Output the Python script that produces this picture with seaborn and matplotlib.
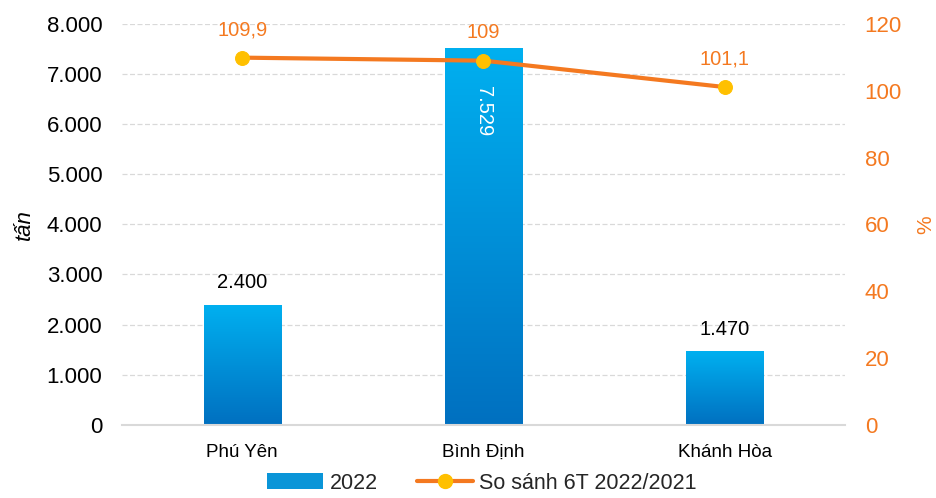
import numpy as np
import pandas as pd
import matplotlib
matplotlib.use('Agg')
import matplotlib.pyplot as plt
import seaborn as sns
from matplotlib.lines import Line2D
from matplotlib.patches import Patch

# Data
provinces = ['Phú Yên', 'Bình Định', 'Khánh Hòa']
tons_2022 = [2400, 7529, 1470]
tons_labels = ['2.400', '7.529', '1.470']
pct_vs_2021 = [109.9, 109.0, 101.1]
pct_labels = ['109,9', '109', '101,1']
left_ticks = [0, 1000, 2000, 3000, 4000, 5000, 6000, 7000, 8000]
left_ticklabels = ['0', '1.000', '2.000', '3.000', '4.000', '5.000', '6.000', '7.000', '8.000']
right_ticks = [0, 20, 40, 60, 80, 100, 120]

sns.set_theme(style="white")
plt.rcParams['font.family'] = ['Liberation Sans', 'DejaVu Sans']

orange = '#F47920'
yellow = '#FFC000'
blue_top = np.array([0x00, 0xB0, 0xF0]) / 255
blue_bot = np.array([0x00, 0x70, 0xC0]) / 255

df = pd.DataFrame({'province': provinces, 'tons': tons_2022, 'pct': pct_vs_2021})

fig = plt.figure(figsize=(9.36, 4.98), dpi=100)
ax = fig.add_axes([0.130, 0.147, 0.773, 0.805])

sns.barplot(data=df, x='province', y='tons', ax=ax, width=0.32, color='#00A0E0', zorder=2)
ax.set_xlim(-0.5, 2.5)
ax.set_ylim(0, 8000)

# gradient fill for the bars
grad = np.linspace(0, 1, 256)[:, None]
cmap = matplotlib.colors.LinearSegmentedColormap.from_list('bl', [blue_bot, blue_top])
for p in ax.patches:
    x0, y0 = p.get_x(), p.get_y()
    w, h = p.get_width(), p.get_height()
    im = ax.imshow(grad, cmap=cmap, origin='lower', aspect='auto',
                   extent=[x0, x0 + w, y0, y0 + h], zorder=2)
    im.set_clip_path(p)
    p.set_facecolor('none')
    p.set_edgecolor('none')
ax.set_xlim(-0.5, 2.5)
ax.set_ylim(0, 8000)

# bar labels
for i, (v, lab) in enumerate(zip(tons_2022, tons_labels)):
    if v > 5000:
        ax.text(i, v - 760, lab, rotation=270, ha='center', va='top', color='white', fontsize=14.5, zorder=5)
    else:
        ax.text(i, v + 250, lab, ha='center', va='bottom', color='black', fontsize=14.5, zorder=5)

ax.set_yticks(left_ticks)
ax.set_yticklabels(left_ticklabels, fontsize=16, color='black')
ax.tick_params(axis='x', labelsize=13.5, colors='black', pad=8)
ax.tick_params(axis='y', pad=14, length=0)
ax.grid(axis='y', color='#D9D9D9', linestyle=(0, (4, 2)), linewidth=0.9, zorder=0)
for s in ['top', 'right', 'left']:
    ax.spines[s].set_visible(False)
ax.spines['bottom'].set_color('#D9D9D9')
ax.spines['bottom'].set_linewidth(1.5)
ax.set_xlabel('')
ax.set_ylabel('tấn', fontsize=16, fontstyle='italic', color='black', labelpad=8)

ax2 = ax.twinx()
sns.lineplot(x=[0, 1, 2], y=pct_vs_2021, ax=ax2, color=orange, linewidth=3,
             marker='o', markersize=10, markerfacecolor=yellow, markeredgecolor=yellow, zorder=4)
ax2.set_ylim(0, 120)
ax2.set_xlim(-0.5, 2.5)
ax2.set_yticks(right_ticks)
ax2.set_yticklabels([str(t) for t in right_ticks], fontsize=16, color=orange)
ax2.tick_params(axis='y', length=0, pad=14)
for s in ['top', 'right', 'left', 'bottom']:
    ax2.spines[s].set_visible(False)
ax2.grid(False)
ax2.set_ylabel('%', fontsize=15, color=orange, rotation=90, labelpad=10)
for i, (v, lab) in enumerate(zip(pct_vs_2021, pct_labels)):
    ax2.text(i, v + 5.5, lab, ha='center', va='bottom', color=orange, fontsize=14.5)

handles = [Patch(facecolor='#0A95D8', edgecolor='none'),
           Line2D([0], [0], color=orange, linewidth=3, marker='o', markersize=10,
                  markerfacecolor=yellow, markeredgecolor=yellow)]
fig.legend(handles, ['2022', 'So sánh 6T 2022/2021'], loc='lower center',
           bbox_to_anchor=(0.515, -0.03), ncol=2, frameon=False, fontsize=15.5,
           handlelength=2.6, handleheight=0.8, columnspacing=1.8, handletextpad=0.3)

fig.savefig('out.png', dpi=100)
